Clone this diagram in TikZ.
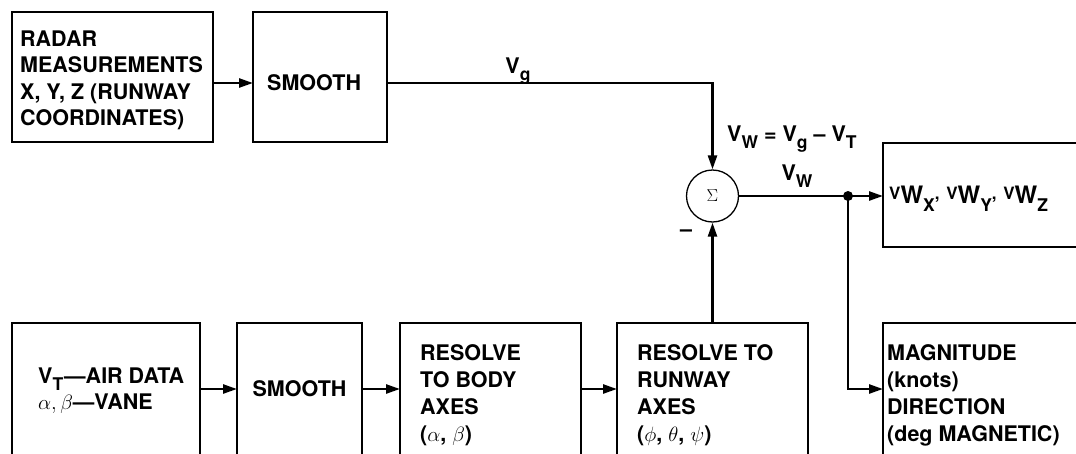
\documentclass[tikz,border=0pt]{standalone}
\usepackage{fontspec}
\setmainfont{TeX Gyre Heros}
\usetikzlibrary{arrows.meta,calc}
\newcommand\lo[1]{\raisebox{-0.32em}{\fontsize{17.5}{17.5}\selectfont #1}}
\newcommand\hi[1]{\raisebox{0.2em}{\fontsize{17}{17}\selectfont #1}}
\newcommand\fl{\rule{0pt}{17pt}}
\tikzset{
  box/.style={draw, line width=1.3pt, inner sep=0pt, outer sep=0pt, anchor=north west},
  txt/.style={inner sep=0pt, align=left, font=\fontsize{21.5}{26.5}\selectfont\bfseries},
  conn/.style={line width=2.5pt},
  arr/.style={conn, -{Triangle[length=14pt,width=9pt]}},
}
\begin{document}
\begin{tikzpicture}[x=1pt,y=-1pt]
\useasboundingbox (0,0) rectangle (1076,453);
\fill[white] (0,0) rectangle (1076,453);
\clip (0,0) rectangle (1076,453);
% boxes
\node[box, minimum width=201pt, minimum height=130pt] (radar) at (12,12) {};
\node[box, minimum width=134pt, minimum height=130pt] (smootha) at (253,12) {};
\node[box, minimum width=250pt, minimum height=104pt] (out) at (883,143) {};
\node[box, minimum width=188pt, minimum height=132pt] (air) at (12,323) {};
\node[box, minimum width=125pt, minimum height=132pt] (smoothb) at (237,323) {};
\node[box, minimum width=181pt, minimum height=132pt] (body) at (400,323) {};
\node[box, minimum width=191pt, minimum height=132pt] (runway) at (617,323) {};
\node[box, minimum width=250pt, minimum height=132pt] (mag) at (883,323) {};
\node[draw, circle, line width=1.3pt, minimum size=52pt, inner sep=0pt, font=\fontsize{17}{17}\selectfont] (sum) at (712.5,196) {$\Sigma$};
\coordinate (dot) at (848,196);
% texts
\node[txt, anchor=north west] (radart) at (20,29) {\fl RADAR\\MEASUREMENTS\\X, Y, Z (RUNWAY\\COORDINATES)};
\node[txt, anchor=west] (smoothat) at (267,83) {SMOOTH};
\node[txt, anchor=west, font=\fontsize{24}{26.5}\selectfont\bfseries] (outt) at (889,199) {\hi{V}W\lo{X}\hi{,} \hi{V}W\lo{Y}\hi{,} \hi{V}W\lo{Z}};
\node[txt, anchor=north west] (airt) at (38,366) {\fl V\lo{T}\kern1pt---AIR DATA\\$\alpha,\beta$---VANE};
\node[txt] (smoothbt) at (smoothb.center) {SMOOTH};
\node[txt, anchor=north west, font=\fontsize{21.5}{27}\selectfont\bfseries] (bodyt) at (420,343) {\fl RESOLVE\\TO BODY\\AXES\\($\alpha$, $\beta$)};
\node[txt, anchor=north west, font=\fontsize{21.5}{27}\selectfont\bfseries] (runwayt) at (637,343) {\fl RESOLVE TO\\RUNWAY\\AXES\\($\phi$, $\theta$, $\psi$)};
\node[txt, anchor=north west, font=\fontsize{21.5}{27}\selectfont\bfseries] (magt) at (887,343) {\fl MAGNITUDE\\(knots)\\DIRECTION\\(deg MAGNETIC)};
% labels
\node[txt] (vg) at (518,71) {V\lo{g}};
\node[txt, anchor=west] (eq) at (727,139) {V\lo{W} = V\lo{g} -- V\lo{T}};
\node[txt] (vw) at (797,176) {V\lo{W}};
\node[txt] (minus) at (686,233) {--};
% connectors
\draw[arr] ([yshift=-6pt]radar.east) -- ([yshift=-6pt]smootha.west);
\draw[arr] ([yshift=-6pt]smootha.east) -| (sum.north);
\draw[arr] (runway.north) -- (sum.south);
\draw[arr] (sum.east) -- (sum.east -| out.west);
\fill (dot) circle (5pt);
\draw[arr] (dot) |- (mag.west);
\draw[arr] (air.east) -- (smoothb.west);
\draw[arr] (smoothb.east) -- (body.west);
\draw[arr] (body.east) -- (runway.west);
\end{tikzpicture}
\end{document}
